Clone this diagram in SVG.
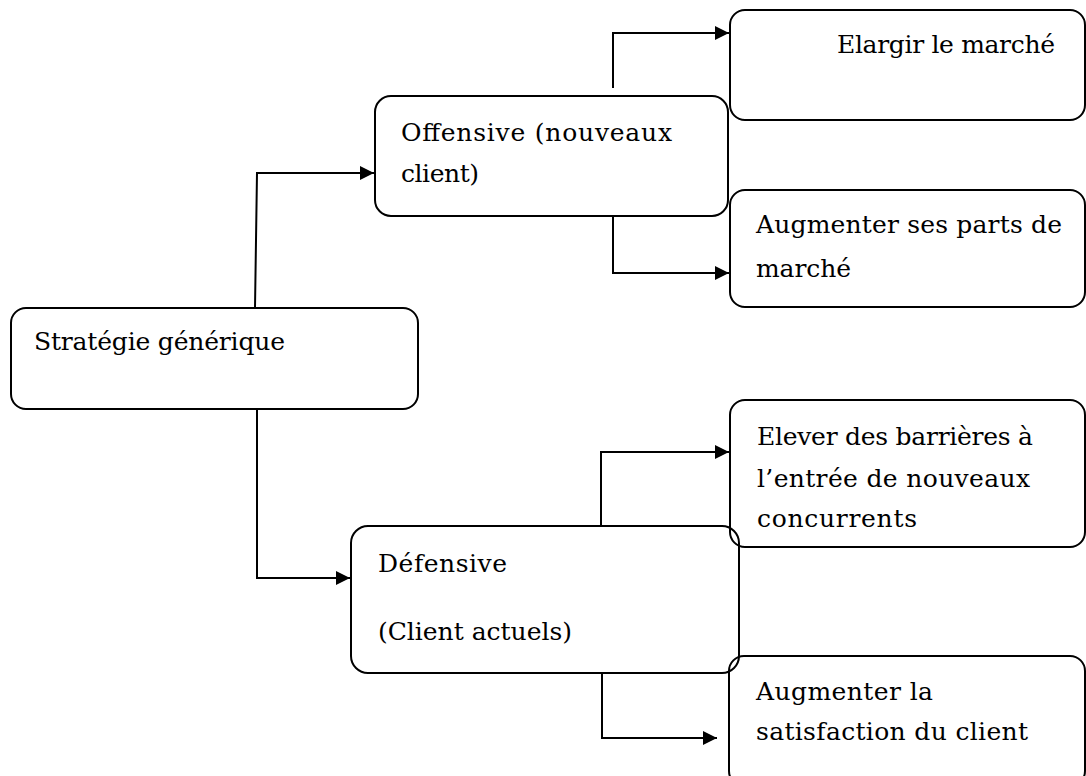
<svg xmlns="http://www.w3.org/2000/svg" width="1086" height="776" viewBox="0 0 1086 776">
  <style>
    .box { fill: none; stroke: #000; stroke-width: 2; }
    .lbl { font-family: "DejaVu Serif", "Liberation Serif", serif; font-size: 25px; fill: #000; }
    .wire { fill: none; stroke: #000; stroke-width: 2; }
  </style>
  <defs>
    <marker id="arrow" markerUnits="userSpaceOnUse" markerWidth="16" markerHeight="16" viewBox="0 0 16 16" refX="15" refY="8" orient="auto">
      <path d="M1,1 L15,8 L1,15 Z" fill="#000"/>
    </marker>
  </defs>
  <rect width="1086" height="776" fill="#fff"/>

  <!-- connectors -->
  <g id="connectors">
    <path class="wire" d="M255,308 L257,173 L374,173" marker-end="url(#arrow)"/>
    <path class="wire" d="M257,409 L257,578 L350,578" marker-end="url(#arrow)"/>
    <path class="wire" d="M613,88 L613,33 L729,33" marker-end="url(#arrow)"/>
    <path class="wire" d="M613,216 L613,273 L729,273" marker-end="url(#arrow)"/>
    <path class="wire" d="M601,526 L601,452 L729,452" marker-end="url(#arrow)"/>
    <path class="wire" d="M602,673 L602,738 L717,738" marker-end="url(#arrow)"/>
  </g>

  <g id="strategie">
    <rect class="box" x="11" y="308" width="407" height="101" rx="15"/>
    <text class="lbl" x="34" y="350" textLength="251">Stratégie générique</text>
  </g>

  <g id="offensive">
    <rect class="box" x="375" y="96" width="353" height="120" rx="16"/>
    <text class="lbl" x="401" y="141" textLength="271">Offensive (nouveaux</text>
    <text class="lbl" x="401" y="182" textLength="78">client)</text>
  </g>

  <g id="defensive">
    <rect class="box" x="351" y="526" width="388" height="147" rx="17"/>
    <text class="lbl" x="378" y="572" textLength="129">Défensive</text>
    <text class="lbl" x="378" y="640" textLength="194">(Client actuels)</text>
  </g>

  <g id="elargir">
    <rect class="box" x="730" y="10" width="355" height="110" rx="15"/>
    <text class="lbl" x="837" y="53" textLength="218">Elargir le marché</text>
  </g>

  <g id="parts">
    <rect class="box" x="730" y="190" width="355" height="117" rx="15"/>
    <text class="lbl" x="756" y="233" textLength="306">Augmenter ses parts de</text>
    <text class="lbl" x="756" y="277" textLength="95">marché</text>
  </g>

  <g id="barrieres">
    <rect class="box" x="730" y="400" width="355" height="147" rx="15"/>
    <text class="lbl" x="757" y="445" textLength="276">Elever des barrières à</text>
    <text class="lbl" x="757" y="487" textLength="273">l’entrée de nouveaux</text>
    <text class="lbl" x="757" y="527" textLength="160">concurrents</text>
  </g>

  <g id="satisfaction">
    <rect class="box" x="729" y="656" width="356" height="130" rx="15"/>
    <text class="lbl" x="756" y="700" textLength="177">Augmenter la</text>
    <text class="lbl" x="756" y="740" textLength="272">satisfaction du client</text>
  </g>
</svg>
